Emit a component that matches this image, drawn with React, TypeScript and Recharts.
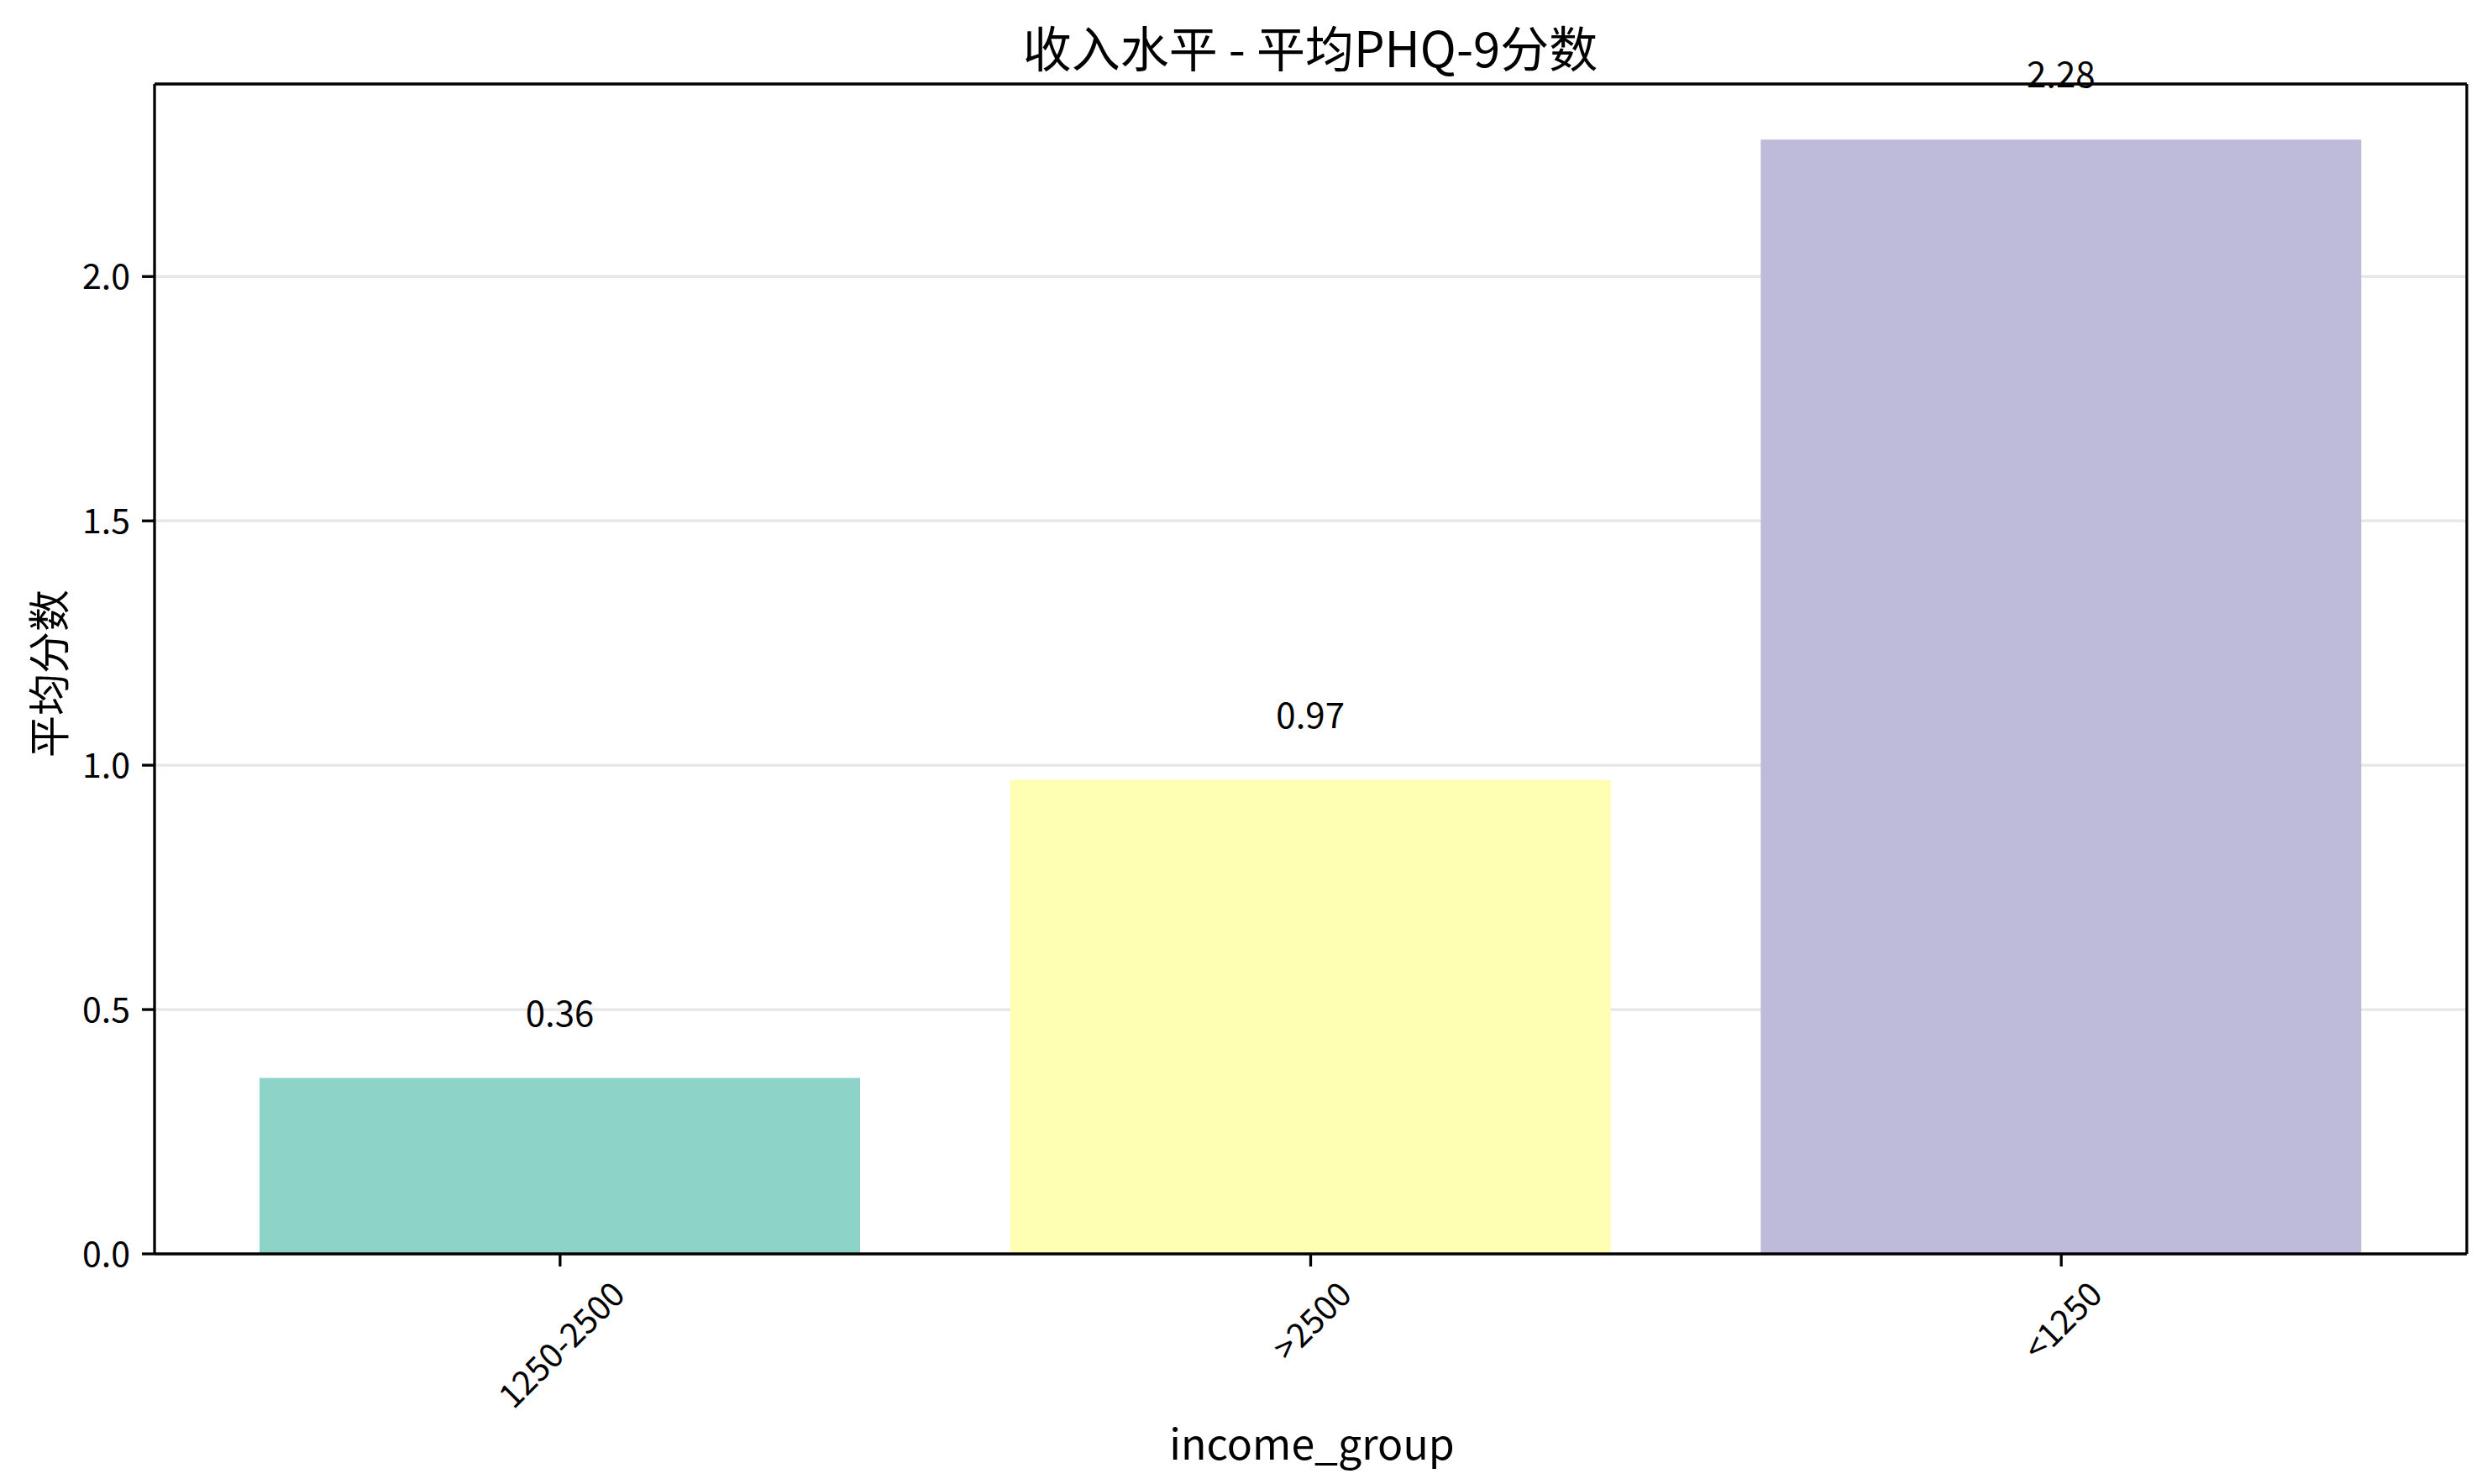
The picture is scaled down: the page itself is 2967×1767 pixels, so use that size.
import React from 'react'
import { BarChart, Bar, XAxis, YAxis, CartesianGrid, Cell, LabelList } from 'recharts'

// data
const categories = ['1250-2500', '>2500', '<1250']
const meanScores = [0.36, 0.97, 2.28]
const barColors = ['#8dd3c7', '#ffffb3', '#bebada']
const yTicks = [0, 0.5, 1.0, 1.5, 2.0]

const FONT = "'Noto Sans CJK SC', 'Noto Sans', sans-serif"
const W = 2967
const H = 1767

const chartData = categories.map((c, i) => ({ group: c, score: meanScores[i] }))

// rough text length, used to centre the rotated tick label box on the tick
const textLen = (s: string, fs: number) =>
  s.split('').reduce((acc, ch) => acc + (ch === '-' ? 0.35 : 0.55) * fs, 0)

const XTick = ({ x, y, payload }: any) => {
  const fs = 40
  const L = textLen(String(payload.value), fs)
  const cy = y + 0.354 * (L + 0.72 * fs)
  return (
    <text
      x={x}
      y={cy}
      transform={`rotate(-45 ${x} ${cy})`}
      textAnchor="middle"
      dominantBaseline="central"
      fontSize={fs}
      fontFamily={FONT}
      fill="#000"
    >
      {payload.value}
    </text>
  )
}

export default function App() {
  const axisStroke = { stroke: '#000', strokeWidth: 3.3 }
  return (
    <div style={{ position: 'absolute', left: 0, top: 0, width: W, height: H, background: '#fff', fontFamily: FONT }}>
      <div
        style={{
          position: 'absolute', left: 1560, top: 55, transform: 'translate(-50%, -50%)',
          fontSize: 58, lineHeight: '58px', whiteSpace: 'nowrap', color: '#000'
        }}
      >
        收入水平 - 平均PHQ-9分数
      </div>
      <div
        style={{
          position: 'absolute', left: 55, top: 802, transform: 'translate(-50%, -50%) rotate(-90deg)',
          fontSize: 50, lineHeight: '50px', whiteSpace: 'nowrap', color: '#000'
        }}
      >
        平均分数
      </div>
      <div
        style={{
          position: 'absolute', left: 1562, top: 1716, transform: 'translate(-50%, -50%)',
          fontSize: 50, lineHeight: '50px', whiteSpace: 'nowrap', color: '#000'
        }}
      >
        income_group
      </div>
      <BarChart width={W} height={H} data={chartData} margin={{ top: 99, right: 29, bottom: 0, left: 0 }}>
        <CartesianGrid vertical={false} stroke="#b0b0b0" strokeOpacity={0.3} strokeWidth={3.3} />
        <XAxis
          dataKey="group"
          height={274}
          padding={{ left: 36, right: 36 }}
          axisLine={axisStroke}
          tickLine={axisStroke}
          tickSize={15}
          tickMargin={14}
          interval={0}
          tick={<XTick />}
        />
        <XAxis xAxisId="top" dataKey="group" orientation="top" height={1} tick={false} tickLine={false} axisLine={axisStroke} />
        <YAxis
          domain={[0, 2.394]}
          ticks={yTicks}
          width={184}
          axisLine={axisStroke}
          tickLine={axisStroke}
          tickSize={15}
          tickMargin={14}
          tickFormatter={(v: number) => v.toFixed(1)}
          tick={{ fontSize: 41, fontFamily: FONT, fill: '#000' }}
        />
        <YAxis yAxisId="right" orientation="right" width={1} domain={[0, 1]} tick={false} tickLine={false} axisLine={axisStroke} />
        <Bar dataKey="score" barSize={715} isAnimationActive={false}>
          {chartData.map((d, i) => (
            <Cell key={d.group} fill={barColors[i]} />
          ))}
          <LabelList
            dataKey="score"
            position="top"
            offset={62}
            formatter={(v: any) => Number(v).toFixed(2)}
            style={{ fontSize: 42, fontFamily: FONT, fill: '#000' }}
          />
        </Bar>
      </BarChart>
    </div>
  )
}
